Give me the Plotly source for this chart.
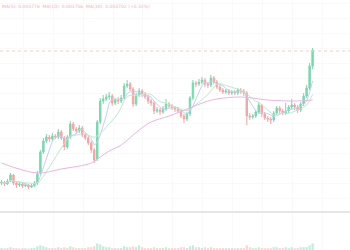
import plotly.graph_objects as go
import pandas as pd

# ---- data ----
opens = [287,288,286,289,295,287,285,286,284,285,
         283,284,287,297,318,329,333,331,334,333,
         338,332,323,333,346,341,339,342,335,332,
         327,320,311,348,369,371,373,374,367,370,
         369,372,384,386,381,366,375,379,376,373,
         369,367,359,360,358,361,366,364,362,361,
         359,354,351,356,372,387,386,388,390,386,
         385,392,388,383,380,378,379,377,378,377,
         380,379,377,354,353,354,358,365,356,352,
         351,350,357,362,359,357,359,363,365,363,
         360,366,374,382,404]
closes = [288,286,289,295,287,285,286,284,285,283,
          284,287,296,318,329,333,331,334,333,338,
          332,323,333,346,341,339,342,335,332,327,
          320,310,348,369,371,373,374,367,370,369,
          372,384,386,381,366,375,379,376,373,369,
          367,359,360,358,361,366,364,362,361,359,
          354,351,356,372,387,386,388,390,386,385,
          392,388,383,380,378,379,377,378,377,380,
          379,377,354,353,354,358,365,356,352,351,
          350,357,362,359,357,359,363,365,363,360,
          366,374,382,404,420]
highs = [290,289,291,297,296,288,288,287,287,286,
         286,289,299,320,332,336,335,337,336,341,
         340,334,335,349,348,343,345,344,337,334,
         329,322,350,372,375,376,378,376,372,373,
         375,387,390,388,383,377,382,381,378,375,
         371,369,363,362,364,371,368,366,364,363,
         361,356,358,374,390,389,391,393,392,388,
         395,394,390,385,382,381,381,380,380,382,
         382,381,379,357,356,360,368,366,358,354,
         353,359,364,364,361,367,365,371,367,365,
         368,377,385,407,422]
lows = [285,284,285,288,285,282,283,282,283,281,
        282,283,285,295,316,327,328,329,331,331,
        330,320,321,331,339,336,337,333,330,325,
        317,307,309,346,366,369,370,364,365,366,
        367,370,382,379,363,364,373,373,371,366,
        364,356,357,355,356,359,362,360,358,357,
        352,347,349,354,370,383,384,386,383,382,
        383,386,381,378,376,376,375,375,375,375,
        376,374,345,350,351,352,356,353,350,348,
        346,348,355,357,355,355,357,361,360,357,
        358,364,372,380,401]
volumes = [2,2,2,3,2,2,1,2,2,1,
           2,2,4,5,4,3,2,2,2,3,
           2,3,2,4,3,2,2,2,2,3,
           3,4,7,6,4,3,3,2,2,2,
           2,4,3,3,4,3,5,3,2,2,
           2,3,2,2,2,3,2,2,2,2,
           3,3,2,4,5,3,3,2,3,2,
           3,2,2,2,2,2,2,2,2,2,
           2,2,5,3,2,2,3,2,2,2,
           2,3,3,2,2,3,2,3,2,2,
           3,3,3,5,7]
# slow moving average line, read at a few candles
slow_ma_idx = [0,12,20,30,33,36,40,46,50,56,63,68,72,80,89,99,104]
slow_ma_val = [307,297,301,307,313,319,325,340,348,354,362,368,371,373,370,369,370]

legend_text = "MA(5): 0.003776  MA(10): 0.003756  MA(30): 0.003702 (+0.32%)"

idx = list(range(len(closes)))
s = pd.Series(closes, dtype=float)
ma_fast = s.rolling(5, min_periods=1).mean()
ma_mid = s.rolling(10, min_periods=1).mean()

UP = "#7fd5af"
DN = "#f4a6a6"

fig = go.Figure()
fig.add_trace(go.Candlestick(
    x=idx, open=opens, high=highs, low=lows, close=closes,
    increasing=dict(line=dict(color=UP, width=1), fillcolor=UP),
    decreasing=dict(line=dict(color=DN, width=1), fillcolor=DN),
    whiskerwidth=0, showlegend=False, xaxis="x", yaxis="y"))
fig.add_trace(go.Scatter(x=idx, y=ma_fast, mode="lines",
                         line=dict(color="#bfd1f4", width=1), showlegend=False))
fig.add_trace(go.Scatter(x=idx, y=ma_mid, mode="lines",
                         line=dict(color="#bdeacf", width=1), showlegend=False))
fig.add_trace(go.Scatter(x=slow_ma_idx, y=slow_ma_val, mode="lines",
                         line=dict(color="#ebb6de", width=1, shape="spline"),
                         showlegend=False))
vol_colors = [UP if c >= o else DN for o, c in zip(opens, closes)]
fig.add_trace(go.Bar(x=idx, y=volumes, marker=dict(color=vol_colors, line=dict(width=0)),
                     opacity=0.45, showlegend=False, xaxis="x2", yaxis="y2"))

# current price line
fig.add_shape(type="line", xref="paper", x0=0, x1=1, yref="y",
              y0=closes[-1] - 1, y1=closes[-1] - 1,
              line=dict(color="#f7caca", width=1, dash="dot"))

fig.add_annotation(text=legend_text, xref="paper", yref="paper", x=0.0, y=1,
                   yshift=-6, xanchor="left", yanchor="middle", showarrow=False,
                   font=dict(size=4.5, color="#f3b0bc", family="DejaVu Sans"))

grid = "#f9f9f9"
fig.update_layout(
    width=350, height=250, autosize=False,
    margin=dict(l=0, r=0, t=0, b=0),
    paper_bgcolor="white", plot_bgcolor="white",
    bargap=0.25,
    xaxis=dict(domain=[0, 1], range=[-0.5, 116.5], showticklabels=False,
               showgrid=True, gridcolor=grid, tick0=7.3, dtick=10, zeroline=False,
               showline=True, linecolor="#e6e6e6", linewidth=1.5,
               rangeslider=dict(visible=False), anchor="y", ticks=""),
    yaxis=dict(domain=[0.156, 1], range=[259, 470], showticklabels=False,
               showgrid=True, gridcolor=grid, tick0=272, dtick=15, zeroline=False,
               ticks=""),
    xaxis2=dict(domain=[0, 1], range=[-0.5, 116.5], showticklabels=False,
                showgrid=True, gridcolor=grid, tick0=7.3, dtick=10, zeroline=False,
                anchor="y2", ticks=""),
    yaxis2=dict(domain=[0, 0.15], range=[0, 40], showticklabels=False,
                showgrid=False, zeroline=False, ticks=""),
)

fig.write_html("out.html")
